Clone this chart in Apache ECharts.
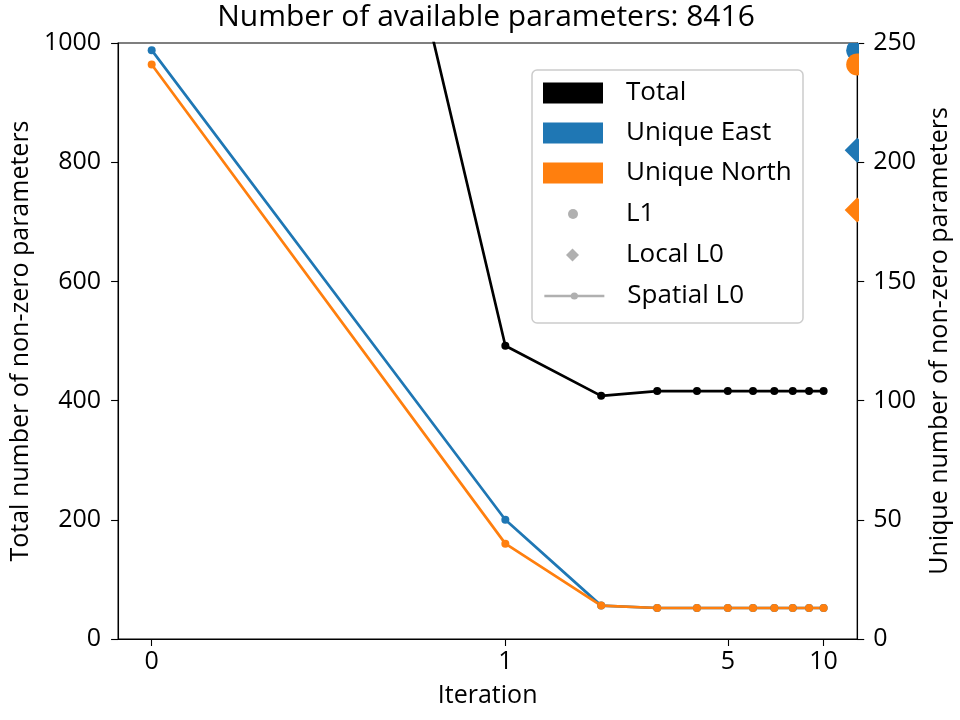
<!DOCTYPE html>
<html><head><meta charset="utf-8">
<script src="https://cdn.jsdelivr.net/npm/echarts@6/dist/echarts.min.js"></script>
<style>html,body{margin:0;padding:0;background:#fff}#c{width:960px;height:720px}</style>
</head><body><div id="c"></div>
<script>
// ---- data ----
const iterations = [0, 1, 2, 3, 4, 5, 6, 7, 8, 9, 10];
const totalValues = [3008, 492, 408, 416, 416, 416, 416, 416, 416, 416, 416];
const uniqueEastValues = [247, 50, 14, 13, 13, 13, 13, 13, 13, 13, 13];
const uniqueNorthValues = [241, 40, 14, 13, 13, 13, 13, 13, 13, 13, 13];
const l1EastValues = [247];
const l1NorthValues = [241];
const localL0EastValues = [205];
const localL0NorthValues = [180];
const xTickLabels = [0, 1, 5, 10];
const titleText = 'Number of available parameters: 8416';

// ---- symlog scale (linthresh 1, linscale 1, base 10) ----
const LINSCALE = 1 / (1 - 1 / 10);
function symlog(x) {
  const a = Math.abs(x);
  return a <= 1 ? x * LINSCALE : Math.sign(x) * (LINSCALE + Math.log10(a));
}
const dataMax = symlog(Math.max(...iterations));
const xMin = -0.05 * dataMax, xMax = dataMax * 1.05;
const xTickPos = xTickLabels.map(symlog);

const FONT = 'Open Sans';
const BLUE = '#1f77b4', ORANGE = '#ff7f0e', GRAY = '#b0b0b0';

function lineSeries(name, color, values, yIdx) {
  return {
    name, type: 'line', yAxisIndex: yIdx, clip: true,
    data: iterations.map((it, i) => [symlog(it), values[i]]),
    symbol: 'circle', symbolSize: 8, showSymbol: true,
    lineStyle: { color, width: 2.7 }, itemStyle: { color, borderWidth: 0 },
    emphasis: { disabled: true }, animation: false, z: 3
  };
}
// markers placed on the right edge of the axes, half clipped by the plot area
function edgeMarker(name, color, shapeType, size, values) {
  return {
    name, type: 'custom', coordinateSystem: 'cartesian2d', yAxisIndex: 1, clip: true,
    data: values.map(v => [xMax, v]), z: 4, animation: false,
    renderItem: (params, api) => {
      const p = api.coord([api.value(0), api.value(1)]);
      const h = size / 2;
      if (shapeType === 'circle') {
        return { type: 'circle', shape: { cx: p[0], cy: p[1], r: h }, style: { fill: color } };
      }
      return {
        type: 'polygon',
        shape: { points: [[p[0], p[1] - h], [p[0] + h, p[1]], [p[0], p[1] + h], [p[0] - h, p[1]]] },
        style: { fill: color }
      };
    }
  };
}
function legendOnly(name, type, symbol) {
  return {
    name, type, yAxisIndex: 0, data: [], symbol, symbolSize: 8,
    itemStyle: { color: GRAY, opacity: 1 }, lineStyle: { color: GRAY, width: 2.7 }
  };
}

const txt = { fontFamily: FONT, fontSize: 26, color: '#000', lineHeight: 30 };
function legendBox(names, left, top, w, h, icon, padLeft) {
  return {
    orient: 'vertical', left, top, padding: 0, itemWidth: w, itemHeight: h, itemGap: 10,
    selectedMode: false, data: names.map(n => icon ? { name: n, icon } : { name: n }),
    itemStyle: { borderWidth: 0 },
    lineStyle: { width: 2.7, color: GRAY },
    textStyle: Object.assign({}, txt, { padding: [0, 0, 0, padLeft] })
  };
}

const axisBase = {
  axisLine: { show: true, onZero: false, lineStyle: { color: '#000', width: 1.1 } },
  axisTick: { show: true, inside: false, length: 7, lineStyle: { color: '#000', width: 1.1 } },
  splitLine: { show: false },
  nameTextStyle: { fontFamily: FONT, fontSize: 25, color: '#000' }
};

const chart = echarts.init(document.getElementById('c'), null, { renderer: 'canvas' });
chart.setOption({
  animation: false,
  backgroundColor: '#fff',
  title: {
    text: titleText, left: 486, top: 2, textAlign: 'center', padding: 0,
    textStyle: { fontFamily: FONT, fontSize: 30, fontWeight: 'normal', color: '#000' }
  },
  grid: { left: 113, top: 43, right: 100, bottom: 81, show: true, borderColor: '#000', borderWidth: 1.1, backgroundColor: 'transparent' },
  graphic: [{
    type: 'rect', z: 3, shape: { x: 532, y: 70, width: 271, height: 253, r: 5 },
    style: { fill: 'rgba(255,255,255,0.8)', stroke: '#cccccc', lineWidth: 1.5 }
  }],
  legend: [
    legendBox(['Total', 'Unique East', 'Unique North'], 543, 78, 60, 21, 'rect', 18),
    legendBox(['L1'], 568, 199, 10, 10, 'circle', 43),
    legendBox(['Local L0'], 566, 240, 13, 13, 'diamond', 42),
    legendBox(['Spatial L0'], 543, 281, 60, 9, null, 18)
  ],
  xAxis: Object.assign({}, axisBase, {
    type: 'value', min: xMin, max: xMax,
    name: 'Iteration', nameLocation: 'middle', nameGap: 44,
    axisTick: Object.assign({}, axisBase.axisTick, { customValues: xTickPos }),
    axisLabel: {
      customValues: xTickPos, margin: 10, fontFamily: FONT, fontSize: 25, color: '#000',
      formatter: v => { const i = xTickPos.findIndex(p => Math.abs(p - v) < 1e-6); return i >= 0 ? String(xTickLabels[i]) : ''; }
    },
    minorTick: { show: false }
  }),
  yAxis: [Object.assign({}, axisBase, {
    type: 'value', min: 0, max: 1000, interval: 200, position: 'left',
    name: 'Total number of non-zero parameters', nameLocation: 'middle', nameGap: 80, nameRotate: 90,
    axisLabel: { margin: 17, fontFamily: FONT, fontSize: 25, color: '#000', formatter: v => String(v) }
  }), Object.assign({}, axisBase, {
    type: 'value', min: 0, max: 250, interval: 50, position: 'right',
    name: 'Unique number of non-zero parameters', nameLocation: 'middle', nameGap: 66, nameRotate: 90,
    axisLabel: { margin: 16, fontFamily: FONT, fontSize: 25, color: '#000', formatter: v => String(v) }
  })],
  series: [
    lineSeries('Total', '#000000', totalValues, 0),
    lineSeries('Unique East', BLUE, uniqueEastValues, 1),
    lineSeries('Unique North', ORANGE, uniqueNorthValues, 1),
    edgeMarker('L1 East', BLUE, 'circle', 22, l1EastValues),
    edgeMarker('L1 North', ORANGE, 'circle', 22, l1NorthValues),
    edgeMarker('Local L0 East', BLUE, 'diamond', 25, localL0EastValues),
    edgeMarker('Local L0 North', ORANGE, 'diamond', 25, localL0NorthValues),
    legendOnly('L1', 'scatter', 'circle'),
    legendOnly('Local L0', 'scatter', 'diamond'),
    legendOnly('Spatial L0', 'line', 'circle')
  ]
});
</script></body></html>
